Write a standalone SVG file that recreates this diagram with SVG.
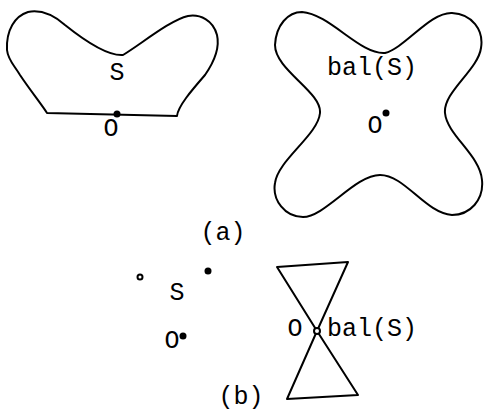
<svg xmlns="http://www.w3.org/2000/svg" width="484" height="412" viewBox="0 0 484 412">
<style>
.o{fill:none;stroke:#000;stroke-width:2;stroke-linejoin:round}
.t{font-family:"Liberation Mono","Courier New",monospace;font-size:25px;fill:#000}
</style>
<rect width="484" height="412" fill="#fff"/>
<g id="shapeS">
<path class="o" d="M47,113 L177,116 C178,106 192,90 205,75 C214,62 220,48 217,35 C213,20 200,14 188,16 C170,20 140,45 123,55 C110,56 90,45 65,25 C50,12 38,10 28,12 C15,16 6,30 7,50 C8,60 14,65 20,75 C30,90 42,105 47,113 Z"/>
<text class="t" x="117" y="80" text-anchor="middle">S</text>
<circle cx="117" cy="114" r="3.5"/>
<text class="t" x="111" y="136" text-anchor="middle">O</text>
</g>
<g id="balS">
<path class="o" d="M385,53 C405,48 430,12 452,13 C472,14 484,30 481,48 C478,70 443,92 445,113 C447,135 480,155 482,180 C484,200 470,215 452,215 C425,213 405,175 380,175 C355,175 325,217 303,217 C285,217 272,200 275,183 C278,160 318,135 320,113 C322,92 275,70 275,45 C276,25 288,12 302,12 C330,14 360,55 385,53 Z"/>
<text class="t" x="372" y="75" text-anchor="middle">bal(S)</text>
<circle cx="386" cy="113" r="3.5"/>
<text class="t" x="375" y="133" text-anchor="middle">O</text>
</g>
<text class="t" x="223" y="240" text-anchor="middle">(a)</text>
<g id="pointsS">
<circle cx="140" cy="277" r="2.5" fill="none" stroke="#000" stroke-width="2"/>
<circle cx="208" cy="271" r="3.5"/>
<text class="t" x="177" y="300" text-anchor="middle">S</text>
<text class="t" x="172" y="348" text-anchor="middle">O</text>
<circle cx="183" cy="336" r="3.5"/>
</g>
<g id="balS2">
<path class="o" d="M277,267 L348,262 L317,331 Z M317,331 L287,399 L358,395 Z"/>
<circle cx="317" cy="331" r="3" fill="#fff" stroke="#000" stroke-width="2"/>
<text class="t" x="295" y="336" text-anchor="middle">O</text>
<text class="t" x="327" y="336">bal(S)</text>
</g>
<text class="t" x="241" y="404" text-anchor="middle">(b)</text>
</svg>
